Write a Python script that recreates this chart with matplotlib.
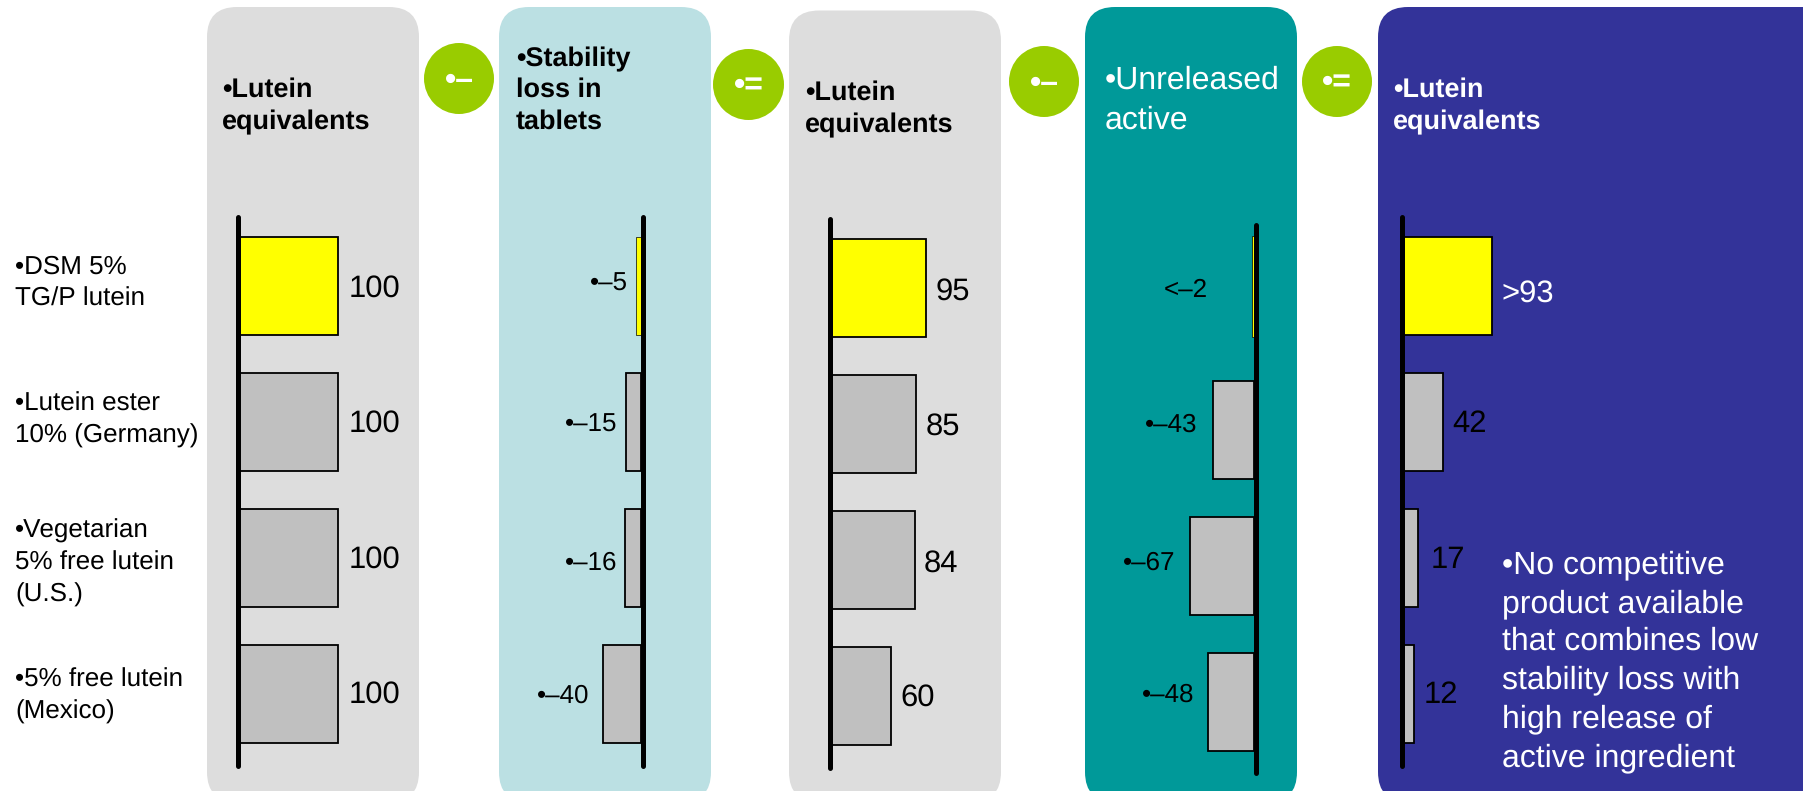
#!/usr/bin/env python3
import matplotlib
matplotlib.use('Agg')
import matplotlib.pyplot as plt
from matplotlib.patches import FancyBboxPatch, Ellipse

plt.rcParams['font.family'] = ['Liberation Sans', 'DejaVu Sans']
plt.rcParams['text.hinting'] = 'no_hinting'
plt.rcParams['text.hinting_factor'] = 1

W, H = 1803, 791

# bar values for the four products, top to bottom
lutein_start = [100, 100, 100, 100]
stability_loss = [-5, -15, -16, -40]
lutein_tablet = [95, 85, 84, 60]
unreleased = [-2, -43, -67, -48]
lutein_final = [93, 42, 17, 12]

# labels next to the bars
start_labels = ['100', '100', '100', '100']
stability_labels = ['•–5', '•–15', '•–16', '•–40']
tablet_labels = ['95', '85', '84', '60']
unreleased_labels = ['<–2', '•–43', '•–67', '•–48']
final_labels = ['>93', '42', '17', '12']

product_names = [
    ['•DSM 5%', 'TG/P lutein'],
    ['•Lutein ester', '10% (Germany)'],
    ['•Vegetarian', '5% free lutein', '(U.S.)'],
    ['•5% free lutein', '(Mexico)'],
]
note_lines = ['•No competitive', 'product available', 'that combines low',
              'stability loss with', 'high release of', 'active ingredient']

GREY_PANEL = '#DDDDDD'
BLUE_PANEL = '#BBE0E3'
TEAL_PANEL = '#009999'
NAVY_PANEL = '#333399'
GREEN = '#99CC00'
YELLOW = '#FFFF00'
BAR_GREY = '#C0C0C0'

ROW_PITCH = 136.0
AXIS_LW = 3.6  # 5 px at 100 dpi

fig = plt.figure(figsize=(W / 100, H / 100), dpi=100, facecolor='white')

# background layer in pixel coordinates: panels, circles and all the text
bg = fig.add_axes([0, 0, 1, 1], zorder=0)
bg.set_xlim(0, W)
bg.set_ylim(H, 0)
bg.axis('off')


def panel(x0, x1, top, color):
    box = FancyBboxPatch((x0 + 30, top + 30), x1 - x0 - 60, 802 - top - 60,
                         boxstyle='round,pad=30,rounding_size=30',
                         facecolor=color, edgecolor='none')
    bg.add_patch(box)


def lines(x, baselines, texts, size, color='black', weight='normal', ha='left'):
    for y, t in zip(baselines, texts):
        bg.text(x, y, t, fontsize=size, color=color, fontweight=weight,
                ha=ha, va='baseline')


def operator(x0, x1, y0, y1, symbol):
    bg.add_patch(Ellipse(((x0 + x1) / 2, (y0 + y1) / 2), x1 - x0, y1 - y0,
                         facecolor=GREEN, edgecolor='none'))
    bg.text((x0 + x1) / 2, (y0 + y1) / 2 + 10, symbol, fontsize=23, color='white',
            fontweight='bold', ha='center', va='baseline')


# one small axes per column, its spine is the thick black zero line
def bar_column(axis_x, top, bottom, values, scale, rows=(0, 1, 2, 3),
               heights=(0.72, 0.72, 0.72, 0.72)):
    negative = values[0] < 0
    width = 170
    left = axis_x - width if negative else axis_x
    ax = fig.add_axes([left / W, 1 - bottom / H, width / W, (bottom - top) / H], zorder=1)
    ax.patch.set_alpha(0)
    colors = [YELLOW, BAR_GREY, BAR_GREY, BAR_GREY]
    # slim bars get a thin outline so the fill stays visible
    edges = [0.5 if abs(v) < 10 else 1.3 for v in values]
    ax.barh(rows, values, height=heights, color=colors, edgecolor='black', linewidth=edges)
    if negative:
        # bars start at the left edge of the thick line
        ax.set_xlim(-(width - 2.5) / scale, 2.5 / scale)
    else:
        ax.set_xlim(0, width / scale)
    ax.set_ylim((bottom - top - 69) / ROW_PITCH, -69 / ROW_PITCH)
    ax.set_xticks([])
    ax.set_yticks([])
    for name, spine in ax.spines.items():
        spine.set_visible(name == ('right' if negative else 'left'))
        spine.set_linewidth(AXIS_LW)
        spine.set_capstyle('round')
    return ax


panel(207, 419, 7, GREY_PANEL)
panel(499, 711, 7, BLUE_PANEL)
panel(789, 1001, 10.5, GREY_PANEL)
panel(1085, 1297, 7, TEAL_PANEL)
panel(1378, 1840, 7, NAVY_PANEL)

operator(424, 494, 43, 114, '•–')
operator(713, 784, 49, 120, '•=')
operator(1009, 1079, 46, 117, '•–')
operator(1302, 1372, 46, 117, '•=')

# column headers
lines(222, [97, 129], ['•Lutein', 'equivalents'], 19.3, weight='bold')
lines(516, [66, 97, 129], ['•Stability', 'loss in', 'tablets'], 19.3, weight='bold')
lines(805, [100, 132], ['•Lutein', 'equivalents'], 19.3, weight='bold')
lines(1105, [89, 129], ['•Unreleased', 'active'], 23, color='white')
lines(1393, [97, 129], ['•Lutein', 'equivalents'], 19.3, color='white', weight='bold')

# product names on the left
lines(15, [274, 306], product_names[0], 19)
lines(15, [411, 443], product_names[1], 19)
lines(15, [538, 570, 602], product_names[2], 19)
lines(15, [687, 719], product_names[3], 19)

bar_column(237.5, 217, 766, lutein_start, 1.0)
bar_column(643, 217, 766, stability_loss, 0.95)
bar_column(830, 219, 768, lutein_tablet, 1.01)
bar_column(1256, 225, 773, unreleased, 0.95, rows=(-0.055, 1, 2, 3),
           heights=(0.74, 0.72, 0.72, 0.72))
bar_column(1402, 217, 766, lutein_final, 0.97)

# value labels
lines(349, [297, 432, 568, 703], start_labels, 22.5)
for x, y, t in zip([628, 617, 617, 589], [291, 432, 570, 703], stability_labels):
    lines(x, [y], [t], 18.7, ha='right')
for x, y, t in zip([936, 926, 924, 900], [300, 435, 572, 706], tablet_labels):
    lines(x, [y], [t], 22.5)
for x, y, t in zip([1208, 1197, 1175, 1194], [297, 432, 570, 702], unreleased_labels):
    lines(x, [y], [t], 18.7, ha='right')
lines(1501, [302], final_labels[:1], 22.5, color='white')
for x, y, t in zip([1452, 1431, 1424], [432, 568, 703], final_labels[1:]):
    lines(x, [y], [t], 22.5)

lines(1502, [573, 612, 650, 688, 727, 766], note_lines, 22.9, color='white')

fig.savefig('out.png', dpi=100)
